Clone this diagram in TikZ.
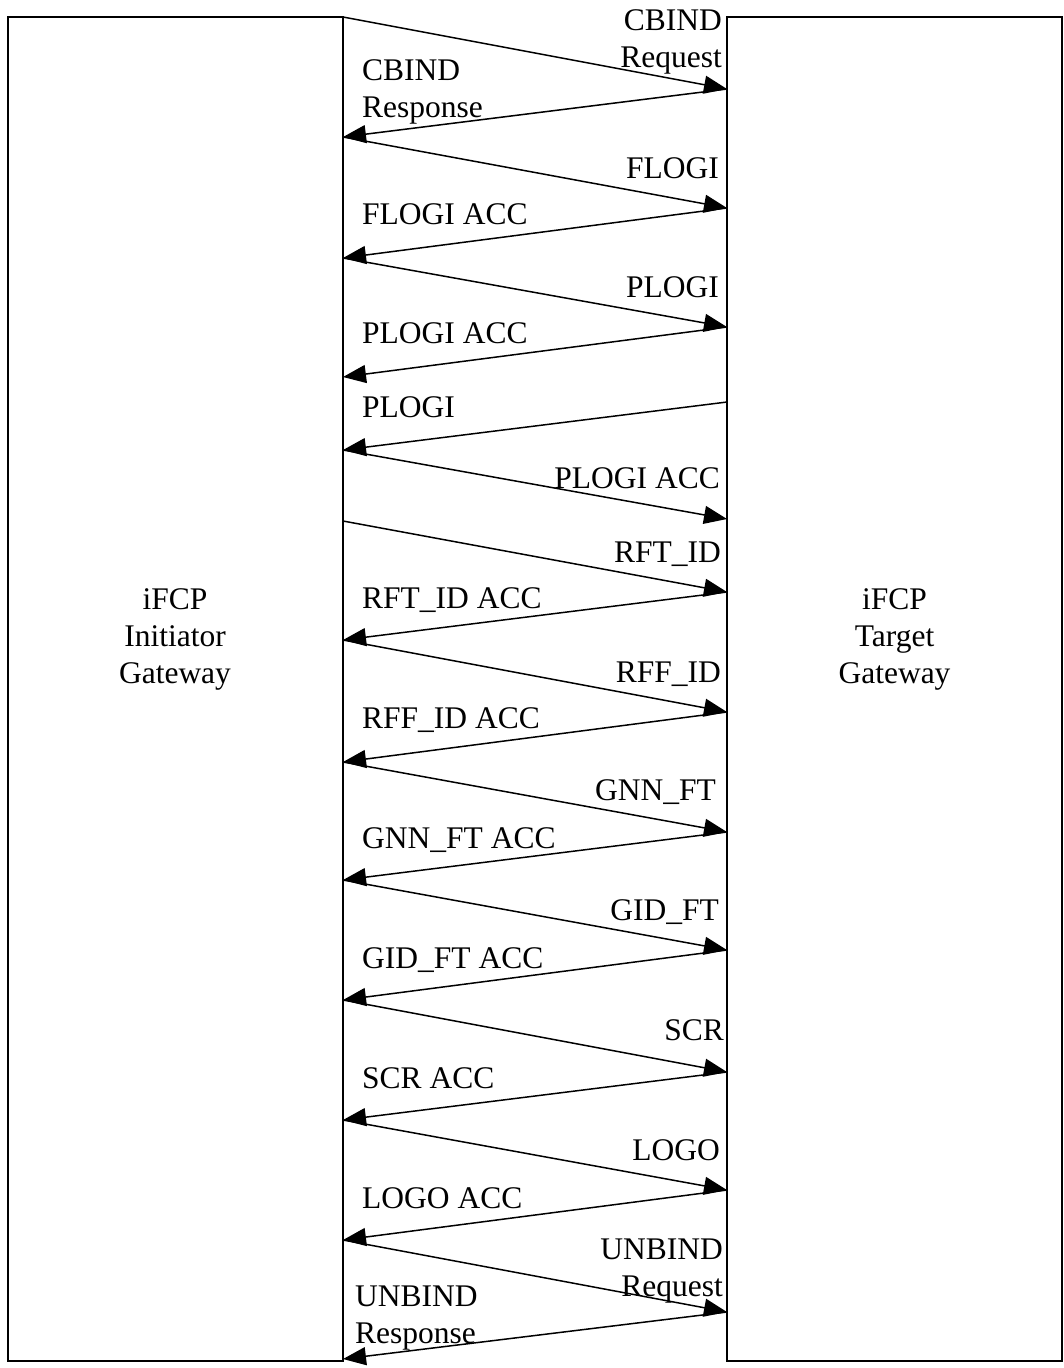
\documentclass[tikz,border=0pt]{standalone}
\usepackage{fontspec}
\setmainfont{Liberation Serif}
\usetikzlibrary{arrows.meta}
\begin{document}
\begin{tikzpicture}[x=1pt,y=-1pt,
    gateway/.style={draw, line width=2pt, minimum width=335pt, minimum height=1344pt, inner sep=0pt},
    msg/.style={line width=1.5pt, -{Triangle[length=23pt,width=18pt]}},
    lab/.style={font=\fontsize{31.5}{37}\selectfont, inner sep=0pt},
    rlab/.style={lab, anchor=base east, align=right},
    llab/.style={lab, anchor=base west, align=left}]
    \useasboundingbox (0,0) rectangle (1063,1368);
    % Gateway boxes
    \node [gateway] (init) at (175,689) {};
    \node [gateway] (target) at (894.5,689) {};
    \node [lab, anchor=base, align=center] (initname) at (175,683) {iFCP\\Initiator\\Gateway};
    \node [lab, anchor=base, align=center] (targetname) at (894.5,683) {iFCP\\Target\\Gateway};
    % Message end points on both gateways
    \foreach \n/\y in {0/17,1/137,2/258,3/377,4/450,5/521,6/640,7/762,8/880,9/1000,10/1120,11/1240,12/1359}
        \coordinate (i\n) at (343,\y);
    \foreach \n/\y in {1/89,2/208,3/327,4/402,5/519,6/592,7/712,8/832,9/950,10/1072,11/1190,12/1312}
        \coordinate (t\n) at (727,\y);
    % Request / response pairs
    \foreach \k [evaluate=\k as \p using int(\k-1)] in {1,2,3,6,7,8,9,10,11,12} {
        \draw [msg] (i\p) -- (t\k);
        \draw [msg] (t\k) -- (i\k);
    }
    % PLOGI from the target side
    \draw [msg] (t4) -- (i4);
    \draw [msg] (i4) -- (t5);
    % Labels on the target side
    \node [rlab] (cbindreq) at (722,67) {CBIND\\Request};
    \node [rlab] (flogi) at (719,178) {FLOGI};
    \node [rlab] (plogi) at (719,297) {PLOGI};
    \node [rlab] (plogiacc) at (720,488) {PLOGI ACC};
    \node [rlab] (rftid) at (721,562) {RFT\_ID};
    \node [rlab] (rffid) at (721,682) {RFF\_ID};
    \node [rlab] (gnnft) at (716,800) {GNN\_FT};
    \node [rlab] (gidft) at (719,920) {GID\_FT};
    \node [rlab] (scr) at (724,1040) {SCR};
    \node [rlab] (logo) at (720,1160) {LOGO};
    \node [rlab] (unbindreq) at (723,1296) {UNBIND\\Request};
    % Labels on the initiator side
    \node [llab] (cbindresp) at (362,117) {CBIND\\Response};
    \node [llab] (flogiacc) at (362,224) {FLOGI ACC};
    \node [llab] (plogiacci) at (362,343) {PLOGI ACC};
    \node [llab] (plogii) at (362,417) {PLOGI};
    \node [llab] (rftidacc) at (362,608) {RFT\_ID ACC};
    \node [llab] (rffidacc) at (362,728) {RFF\_ID ACC};
    \node [llab] (gnnftacc) at (362,848) {GNN\_FT ACC};
    \node [llab] (gidftacc) at (362,968) {GID\_FT ACC};
    \node [llab] (scracc) at (362,1088) {SCR ACC};
    \node [llab] (logoacc) at (362,1208) {LOGO ACC};
    \node [llab] (unbindresp) at (355,1343) {UNBIND\\Response};
\end{tikzpicture}
\end{document}
